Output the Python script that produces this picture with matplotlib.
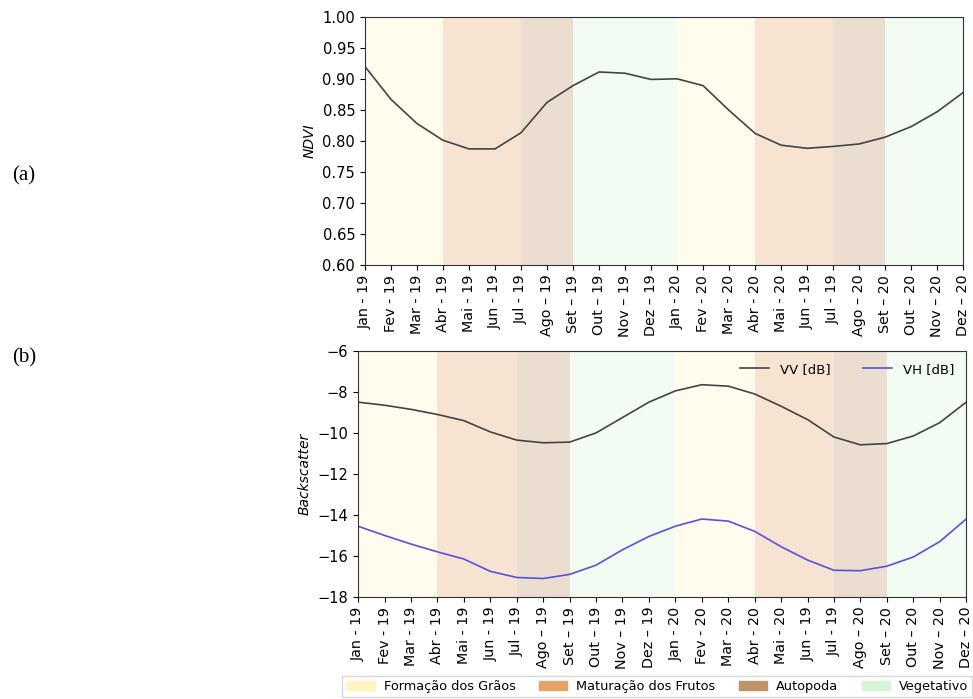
import matplotlib.pyplot as plt
from matplotlib.patches import Patch

# meses (rótulos como no original)
meses = ['Jan - 19', 'Fev - 19', 'Mar - 19', 'Abr - 19', 'Mai - 19', 'Jun - 19',
         'Jul - 19', 'Ago – 19', 'Set – 19', 'Out – 19', 'Nov – 19', 'Dez – 19',
         'Jan - 20', 'Fev - 20', 'Mar - 20', 'Abr - 20', 'Mai - 20', 'Jun - 19',
         'Jul - 19', 'Ago – 20', 'Set – 20', 'Out – 20', 'Nov – 20', 'Dez – 20']

ndvi = [0.920, 0.867, 0.828, 0.801, 0.787, 0.787, 0.813, 0.862, 0.889, 0.911,
        0.909, 0.899, 0.900, 0.889, 0.849, 0.812, 0.793, 0.788, 0.791, 0.795,
        0.806, 0.823, 0.847, 0.878]

vv = [-8.50, -8.65, -8.85, -9.10, -9.40, -9.95, -10.35, -10.48, -10.45, -10.00,
      -9.25, -8.50, -7.95, -7.65, -7.72, -8.10, -8.70, -9.35, -10.20, -10.58,
      -10.52, -10.15, -9.50, -8.50]

vh = [-14.55, -15.00, -15.42, -15.80, -16.15, -16.75, -17.05, -17.10, -16.90, -16.45,
      -15.70, -15.05, -14.55, -14.20, -14.30, -14.80, -15.55, -16.20, -16.70, -16.72,
      -16.50, -16.05, -15.30, -14.20]

# fases fenológicas: (inicio, fim, nome)
fases = [(0, 3, 'Formação dos Grãos'), (3, 6, 'Maturação dos Frutos'),
         (6, 8, 'Autopoda'), (8, 12, 'Vegetativo'),
         (12, 15, 'Formação dos Grãos'), (15, 18, 'Maturação dos Frutos'),
         (18, 20, 'Autopoda'), (20, 23, 'Vegetativo')]

cores = {'Formação dos Grãos': '#fff5c4',
         'Maturação dos Frutos': '#e3a46b',
         'Autopoda': '#bf9466',
         'Vegetativo': '#d6f6d6'}

plt.rcParams['font.family'] = 'DejaVu Sans'
fig = plt.figure(figsize=(9.73, 6.99), dpi=100)

ax1 = fig.add_axes([0.375, 0.621, 0.615, 0.355])
ax2 = fig.add_axes([0.368, 0.146, 0.625, 0.352])

x = list(range(len(meses)))

for ax in (ax1, ax2):
    for ini, fim, nome in fases:
        ax.axvspan(ini, fim, color=cores[nome], alpha=0.3, lw=0, zorder=0)
    ax.set_xlim(0, len(meses) - 1)
    ax.set_xticks(x)
    ax.set_xticklabels(meses, rotation=90, fontsize=10.3)
    ax.tick_params(axis='y', labelsize=10.5)
    for s in ax.spines.values():
        s.set_color('#333333')

ax1.plot(x, ndvi, color='#444444', lw=1.2)
ax1.set_ylim(0.60, 1.00)
ax1.set_yticks([0.60, 0.65, 0.70, 0.75, 0.80, 0.85, 0.90, 0.95, 1.00])
ax1.set_ylabel('NDVI', style='italic', fontsize=10)

ax2.plot(x, vv, color='#444444', lw=1.2, label='VV [dB]')
ax2.plot(x, vh, color='#5a50e0', lw=1.2, label='VH [dB]')
ax2.set_ylim(-18, -6)
ax2.set_yticks([-18, -16, -14, -12, -10, -8, -6])
ax2.set_ylabel('Backscatter', style='italic', fontsize=10)
ax2.legend(loc='upper right', ncol=2, frameon=False, fontsize=9.5,
           handlelength=2.2, columnspacing=2.5)

handles = [Patch(color=cores[n], label=n) for n in
           ['Formação dos Grãos', 'Maturação dos Frutos', 'Autopoda', 'Vegetativo']]
fig.legend(handles=handles, loc='upper left', bbox_to_anchor=(0.352, 0.033),
           ncol=4, fontsize=9.3, frameon=True, fancybox=False,
           edgecolor='#cccccc', columnspacing=1.8, handlelength=2.2,
           handletextpad=0.7, borderaxespad=0, borderpad=0.3)

fig.text(0.012, 0.748, '(a)', family='Liberation Serif', fontsize=15, va='center')
fig.text(0.012, 0.488, '(b)', family='Liberation Serif', fontsize=15, va='center')

fig.savefig('out.png', dpi=100)
